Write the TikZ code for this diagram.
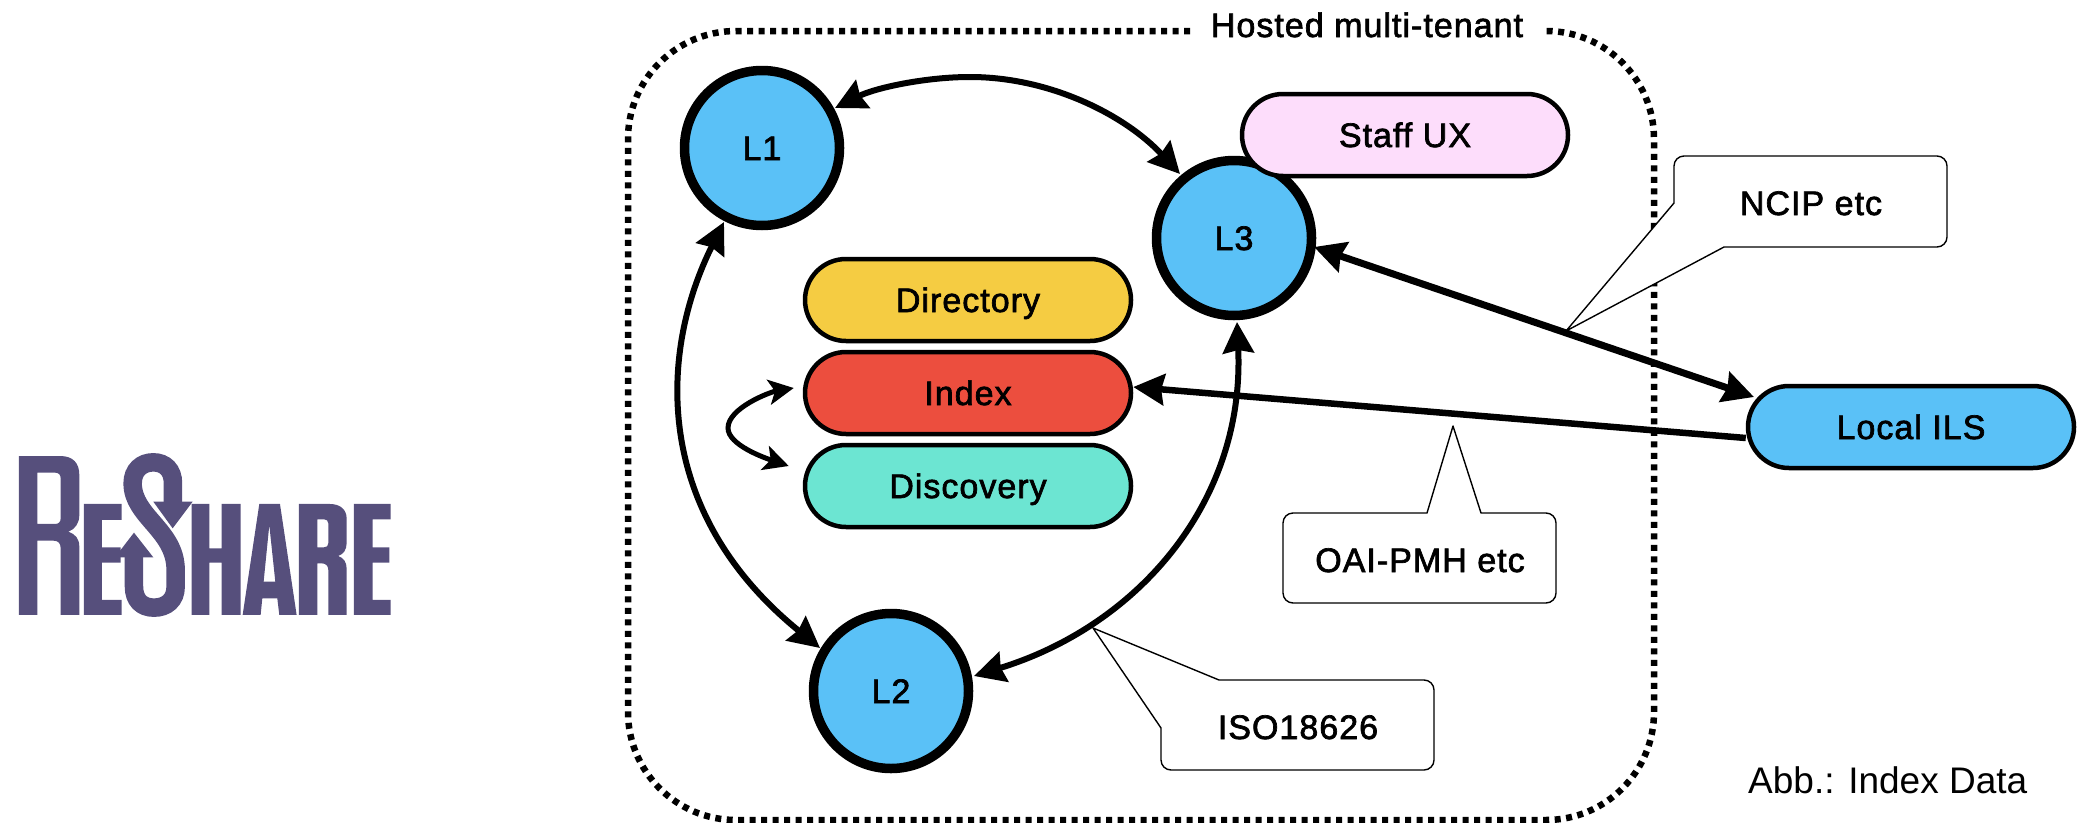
\documentclass[tikz,border=0pt]{standalone}
\usepackage{fontspec}
\setmainfont{Liberation Sans}
\newfontfamily\lblfont[FakeBold=2,LetterSpace=3]{Liberation Sans}
\usetikzlibrary{arrows.meta}
\definecolor{nodeblue}{HTML}{5AC1F7}
\definecolor{dirfill}{HTML}{F5CC42}
\definecolor{idxfill}{HTML}{EC4E3E}
\definecolor{discfill}{HTML}{6CE5D2}
\definecolor{stafffill}{HTML}{FDDDFB}
\definecolor{logoc}{HTML}{564F7C}
\tikzset{
  every node/.style={font=\lblfont\fontsize{34}{38}\selectfont, text=black, text height=24pt, text depth=0pt},
  lib/.style={circle, draw=black, line width=9.5pt, fill=nodeblue, minimum size=155pt, inner sep=0pt},
  pill/.style={rectangle, rounded corners=41pt, draw=black, line width=4.5pt, minimum width=326pt, minimum height=82pt, inner sep=0pt},
  tag/.style={draw=black, line width=1.4pt, fill=white, line join=round},
  tagtext/.style={inner sep=0pt},
  link/.style={line width=6pt, {Stealth[length=31pt,width=31pt,inset=3pt]}-{Stealth[length=31pt,width=31pt,inset=3pt]}},
  smalllink/.style={line width=5pt, {Stealth[length=25pt,width=25pt,inset=6pt]}-{Stealth[length=25pt,width=25pt,inset=6pt]}},
  logo/.style={fill=logoc, draw=none, even odd rule},
}
\begin{document}
\begin{tikzpicture}[x=1pt,y=-1pt]
\useasboundingbox (0,0) rectangle (2082,822);
% dotted frame
\coordinate (fa) at (1190,31);
\coordinate (fb) at (1548,31);
\draw[line width=6.5pt, dash pattern=on 6pt off 5.5pt, rounded corners=108pt]
  (fa) -- (628,31) -- (628,820) -- (1654,820) -- (1654,31) -- (fb);
\node[inner sep=0pt, text height=24pt] (title) at (1367,25) {Hosted multi-tenant};
% logo
\begin{scope}[x=0.3333pt,y=-0.3333pt,yshift=-430pt]
\path[logo] (57,78) -- (180,78) .. controls (220,78) and (238,100) .. (238,135) -- (238,255)
  .. controls (238,280) and (225,298) .. (205,305) .. controls (225,312) and (238,325) .. (238,350) -- (238,555) -- (182,555) -- (182,355)
  .. controls (182,340) and (175,332) .. (160,332) -- (112,332) -- (112,555) -- (57,555) -- cycle
  (112,128) -- (165,128) .. controls (176,128) and (182,134) .. (182,145) -- (182,265) .. controls (182,276) and (176,282) .. (165,282) -- (112,282) -- cycle;
\path[logo] (252,222) -- (365,222) -- (365,270) -- (306,270) -- (306,352) -- (362,352) -- (362,398) -- (306,398) -- (306,510) -- (365,510) -- (365,555) -- (252,555) -- cycle;
\draw[logoc, line width=18.5pt] (519,225) -- (519,160) .. controls (519,120) and (495,97) .. (460,97) .. controls (425,97) and (398,120) .. (398,160) .. controls (398,260) and (527,300) .. (527,420) -- (527,470) .. controls (527,510) and (500,533) .. (462,533) .. controls (425,533) and (402,510) .. (402,470) -- (402,375);
\path[logo] (460,215) -- (578,215) -- (518,295) -- cycle;
\path[logo] (345,382) -- (460,382) -- (402,308) -- cycle;
\path[logo] (575,222) -- (628,222) -- (628,355) -- (665,355) -- (665,222) -- (722,222) -- (722,555) -- (665,555) -- (665,398) -- (628,398) -- (628,555) -- (575,555) -- cycle;
\path[logo] (728,555) -- (778,222) -- (840,222) -- (890,555) -- (838,555) -- (832,505) -- (787,505) -- (782,555) -- cycle
  (791,455) -- (826,455) -- (808,285) -- cycle;
\path[logo] (897,222) -- (990,222) .. controls (1022,222) and (1040,240) .. (1040,265) -- (1040,340) .. controls (1040,360) and (1030,372) .. (1015,378) .. controls (1030,384) and (1040,395) .. (1040,415) -- (1040,555) -- (985,555) -- (985,420) .. controls (985,408) and (978,400) .. (965,400) -- (952,400) -- (952,555) -- (897,555) -- cycle
  (952,268) -- (972,268) .. controls (980,268) and (985,272) .. (985,280) -- (985,340) .. controls (985,348) and (980,352) .. (972,352) -- (952,352) -- cycle;
\path[logo] (1062,222) -- (1172,222) -- (1172,268) -- (1118,268) -- (1118,352) -- (1168,352) -- (1168,398) -- (1118,398) -- (1118,510) -- (1172,510) -- (1172,555) -- (1062,555) -- cycle;
\end{scope}
% callouts
\coordinate (ncipTip) at (1566,331);
\coordinate (oaiTip) at (1453,426);
\coordinate (isoTip) at (1093,628);
\draw[tag] (1674,203) -- (1674,166) arc[start angle=180,end angle=270,radius=10]  -- (1937,156) arc[start angle=270,end angle=360,radius=10] -- (1947,237) arc[start angle=0,end angle=90,radius=10] -- (1724,247) -- (ncipTip) -- cycle;
\draw[tag] (1427,513) -- (1293,513) arc[start angle=270,end angle=180,radius=10] -- (1283,593) arc[start angle=180,end angle=90,radius=10] -- (1546,603) arc[start angle=90,end angle=0,radius=10] -- (1556,523) arc[start angle=0,end angle=-90,radius=10] -- (1481,513) -- (oaiTip) -- cycle;
\draw[tag] (1219,680) -- (1424,680) arc[start angle=270,end angle=360,radius=10] -- (1434,760) arc[start angle=0,end angle=90,radius=10] -- (1171,770) arc[start angle=90,end angle=180,radius=10] -- (1161,728) -- (isoTip) -- cycle;
\node[tagtext] (ncip) at (1811,203) {NCIP etc};
\node[tagtext] (oai) at (1420,560) {OAI-PMH etc};
\node[tagtext] (iso) at (1298,727) {ISO18626};
% library nodes
\node[lib] (L1) at (762,148) {L1};
\node[lib] (L2) at (891,691) {L2};
\node[lib] (L3) at (1234,238) {L3};
% pills
\node[pill, fill=stafffill] (staff) at (1405,135) {Staff UX};
\node[pill, fill=dirfill] (dir) at (968,300) {Directory};
\node[pill, fill=idxfill] (idx) at (968,393) {Index};
\node[pill, fill=discfill] (disc) at (968,486) {Discovery};
\node[pill, fill=nodeblue] (ils) at (1911,427) {Local ILS};
% connectors
\draw[link] (L1) ++(73,-40) coordinate (a1) (L3) ++(-54,-64) coordinate (a3)
  (a1) .. controls (875,88) and (925,77) .. (970,77) .. controls (1050,77) and (1125,115) .. (a3);
\draw[link] (L1) ++(-38,74) coordinate (b1) (L2) ++(-71,-43) coordinate (b2)
  (b1) .. controls (660,350) and (650,510) .. (b2);
\draw[link] (L3) ++(3,84) coordinate (c3) (L2) ++(83,-15) coordinate (c2)
  (c3) .. controls (1245,500) and (1140,625) .. (c2);
\draw[link, line width=7pt] (L3) ++(80,9) coordinate (d3) (ils) ++(-157,-30) coordinate (d4) (d3) -- (d4);
\draw[line width=6.5pt, -{Stealth[length=31pt,width=31pt,inset=3pt]}] (ils.west) ++(0,11) coordinate (e4) (idx.east) ++(0,-6) coordinate (e2) (e4) -- (e2);
\draw[smalllink] (idx.west) ++(-9,-5) coordinate (f1) (disc.west) ++(-14,-20) coordinate (f2)
  (f1) .. controls (770,392) and (728,408) .. (728,428) .. controls (728,445) and (765,458) .. (f2);
\node[font=\fontsize{37}{42}\selectfont, inner sep=0pt, anchor=west, text height=26pt] (abb) at (1748,780) {Abb.: Index Data};
\end{tikzpicture}
\end{document}
